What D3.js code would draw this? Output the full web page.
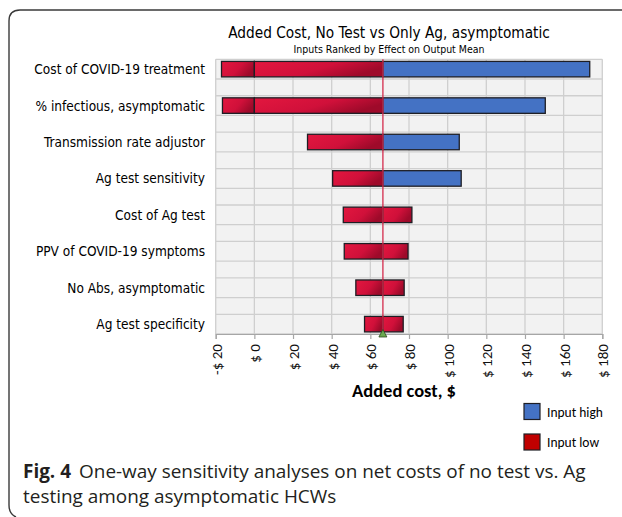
<!DOCTYPE html>
<html>
<head>
<meta charset="utf-8">
<script src="https://cdn.jsdelivr.net/npm/d3@7"></script>
<style>
  body { margin: 0; background: #fff; }
  svg { display: block; }
</style>
</head>
<body>
<svg id="chart" width="622" height="517"></svg>
<script>
// ---------- data ----------
const categories = [
  "Cost of COVID-19 treatment",
  "% infectious, asymptomatic",
  "Transmission rate adjustor",
  "Ag test sensitivity",
  "Cost of Ag test",
  "PPV of COVID-19 symptoms",
  "No Abs, asymptomatic",
  "Ag test specificity"
];
const baseValue = 66.5;
const rangeMin = [-17, -16.5, 27.5, 40.5, 46, 46.5, 52.5, 57];
const rangeMax = [173.5, 150.5, 106, 107, 81.5, 79.5, 77.5, 77];
const minSide = ["Input low", "Input low", "Input low", "Input low", "Input low", "Input low", "Input low", "Input low"];
const maxSide = ["Input high", "Input high", "Input high", "Input high", "Input low", "Input low", "Input low", "Input low"];
const tickValues = [-20, 0, 20, 40, 60, 80, 100, 120, 140, 160, 180];
const tickLabels = ["-$ 20", "$ 0", "$ 20", "$ 40", "$ 60", "$ 80", "$ 100", "$ 120", "$ 140", "$ 160", "$ 180"];
const legendItems = ["Input high", "Input low"];
const titleText = "Added Cost, No Test vs Only Ag, asymptomatic";
const subtitleText = "Inputs Ranked by Effect on Output Mean";
const xAxisTitle = "Added cost, $";
const captionBold = "Fig. 4";
const captionLines = ["One-way sensitivity analyses on net costs of no test vs. Ag", "testing among asymptomatic HCWs"];

// ---------- layout ----------
const svg = d3.select("#chart");
const plot = { left: 215.7, right: 602.3, top: 59.3, bottom: 334 };

const x = d3.scaleLinear().domain([-20, 180]).range([plot.left, plot.right]);
const y = d3.scaleBand().domain(categories).range([plot.top, plot.bottom]).paddingInner(0.459).paddingOuter(0);

const sideColor = d3.scaleOrdinal().domain(legendItems).range(["#4472c4", "url(#redGrad)"]);
const legendColor = d3.scaleOrdinal().domain(legendItems).range(["#4472c4", "#c00000"]);

const tahomaLike = "'DejaVu Sans', Verdana, sans-serif";
const calibriLike = "Carlito, Lato, 'Open Sans', sans-serif";

// gradient for red bars
const defs = svg.append("defs");
const g1 = defs.append("linearGradient").attr("id", "redGrad").attr("x1", 0).attr("y1", 0).attr("x2", 1).attr("y2", 0.4);
g1.append("stop").attr("offset", 0).attr("stop-color", "#e3173f");
g1.append("stop").attr("offset", 0.6).attr("stop-color", "#d0103a");
g1.append("stop").attr("offset", 1).attr("stop-color", "#9e0a2a");

// frame
svg.append("path")
  .attr("d", "M 640 10 L 20 10 Q 9 10 9 21 L 9 505 Q 9 514 16 517")
  .attr("fill", "none").attr("stroke", "#3a3a3a").attr("stroke-width", 1.4);

// plot background
svg.append("rect")
  .attr("x", plot.left).attr("y", plot.top)
  .attr("width", plot.right - plot.left).attr("height", plot.bottom - plot.top)
  .attr("fill", "#f2f2f2");

// vertical gridlines
svg.append("g").selectAll("line").data(tickValues).join("line")
  .attr("x1", d => x(d)).attr("x2", d => x(d))
  .attr("y1", plot.top).attr("y2", plot.bottom)
  .attr("stroke", "#cfcfcf").attr("stroke-width", 1.3);

// horizontal gridlines (band edges)
const hLines = [];
categories.forEach(c => { hLines.push(y(c)); hLines.push(y(c) + y.bandwidth()); });
svg.append("g").selectAll("line").data(hLines).join("line")
  .attr("x1", plot.left).attr("x2", plot.right)
  .attr("y1", d => d).attr("y2", d => d)
  .attr("stroke", "#cfcfcf").attr("stroke-width", 1.3);

// bars: build segments from data (split at zero as in original)
const segments = [];
categories.forEach((c, i) => {
  const addSeg = (a, b, side) => {
    const lo = Math.min(a, b), hi = Math.max(a, b);
    if (lo < 0 && hi > 0) {
      segments.push({ c, lo, hi: 0, side });
      segments.push({ c, lo: 0, hi, side });
    } else segments.push({ c, lo, hi, side });
  };
  addSeg(rangeMin[i], baseValue, minSide[i]);
  addSeg(baseValue, rangeMax[i], maxSide[i]);
});
const inset = 2.1;
svg.append("g").selectAll("rect").data(segments).join("rect")
  .attr("x", d => x(d.lo))
  .attr("width", d => x(d.hi) - x(d.lo))
  .attr("y", d => y(d.c) + inset)
  .attr("height", y.bandwidth() - 2 * inset)
  .attr("fill", d => sideColor(d.side))
  .attr("stroke", "#1e1e24").attr("stroke-width", 1.3);

// base line
svg.append("line")
  .attr("x1", x(baseValue)).attr("x2", x(baseValue))
  .attr("y1", plot.top).attr("y2", plot.bottom)
  .attr("stroke", "#d42a4c").attr("stroke-width", 1.3);

// x axis
const xAxis = d3.axisBottom(x).tickValues(tickValues).tickSize(5).tickFormat((d, i) => tickLabels[i]);
const axG = svg.append("g").attr("transform", `translate(0,${plot.bottom})`).call(xAxis);
axG.attr("font-family", null).attr("font-size", null);
axG.select(".domain").attr("stroke", "#a6a6a6").attr("stroke-width", 1.2);
axG.selectAll(".tick line").attr("stroke", "#a6a6a6").attr("stroke-width", 1.2);
const tickTexts = axG.selectAll(".tick text")
  .attr("font-family", calibriLike)
  .attr("font-weight", 400)
  .attr("font-size", 14)
  .attr("fill", "#111")
  .attr("text-anchor", "end")
  .attr("transform", "rotate(-90)")
  .attr("x", -10).attr("y", 0).attr("dy", "0.36em");
{
  const n = tickTexts.filter((d, i) => i === 6).node();
  const w = n.getComputedTextLength();
  tickTexts.attr("font-size", 14 * 34 / w);
}

// base marker triangle
const bx = x(baseValue);
svg.append("path")
  .attr("d", `M ${bx} ${plot.bottom - 4.5} L ${bx + 4} ${plot.bottom + 3} L ${bx - 4} ${plot.bottom + 3} Z`)
  .attr("fill", "#6aa84f").attr("stroke", "#2d4a1e").attr("stroke-width", 0.8);

// category labels
const fitText = (sel, target) => {
  const w = sel.node().getComputedTextLength();
  const fs = parseFloat(sel.attr("font-size"));
  sel.attr("font-size", fs * target / w);
};
const labels = svg.append("g").selectAll("text").data(categories).join("text")
  .attr("x", 205)
  .attr("y", d => y(d) + y.bandwidth() / 2)
  .attr("dy", "0.37em")
  .attr("text-anchor", "end")
  .attr("font-family", tahomaLike)
  .attr("font-stretch", "condensed")
  .attr("font-size", 13)
  .attr("fill", "#000")
  .text(d => d);
{
  const w0 = labels.filter((d, i) => i === 0).node().getComputedTextLength();
  labels.attr("font-size", 13 * 170.7 / w0);
}

// titles
const t1 = svg.append("text").attr("x", 389).attr("y", 38).attr("text-anchor", "middle")
  .attr("font-family", tahomaLike).attr("font-stretch", "condensed").attr("font-size", 16).attr("fill", "#000")
  .text(titleText);
fitText(t1, 322);
const t2 = svg.append("text").attr("x", 389).attr("y", 52.5).attr("text-anchor", "middle")
  .attr("font-family", tahomaLike).attr("font-stretch", "condensed").attr("font-size", 10).attr("fill", "#000")
  .text(subtitleText);
fitText(t2, 191);

// axis title
svg.append("text").attr("x", 404).attr("y", 396.5).attr("text-anchor", "middle")
  .attr("font-family", calibriLike).attr("font-weight", "bold").attr("font-size", 18.5).attr("fill", "#000")
  .text(xAxisTitle);

// legend
const lg = svg.append("g").selectAll("g").data(legendItems).join("g")
  .attr("transform", (d, i) => `translate(524,${403.5 + i * 30.5})`);
lg.append("rect").attr("width", 16).attr("height", 16)
  .attr("fill", d => legendColor(d)).attr("stroke", "#1e1e24").attr("stroke-width", 1.2);
lg.append("text").attr("x", 23).attr("y", 13)
  .attr("font-family", calibriLike).attr("font-size", 13.5).attr("fill", "#000")
  .text(d => d);

// caption
const cap = svg.append("g").attr("font-family", "'Open Sans', 'Noto Sans', sans-serif").attr("fill", "#231f20");
const c1 = cap.append("text").attr("x", 23).attr("y", 477.5).attr("font-size", 19);
c1.append("tspan").attr("font-weight", "bold").text(captionBold);
c1.append("tspan").attr("dx", 8).text(captionLines[0]);
const c2 = cap.append("text").attr("x", 23).attr("y", 503).attr("font-size", 19).text(captionLines[1]);
{
  const w = c1.node().getComputedTextLength();
  const fs = 19 * (578 - 23) / w;
  c1.attr("font-size", fs);
  c2.attr("font-size", fs);
}
</script>
</body>
</html>
